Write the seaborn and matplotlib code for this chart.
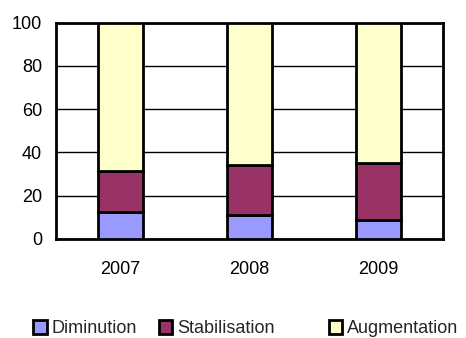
import matplotlib
matplotlib.use("Agg")
import matplotlib.pyplot as plt
import seaborn as sns
import numpy as np
import pandas as pd
from matplotlib.patches import Patch

years = ["2007", "2008", "2009"]
diminution = [12.3, 11.0, 8.6]
stabilisation = [19.0, 23.0, 26.6]
augmentation = [68.7, 66.0, 64.8]
series_names = ["Diminution", "Stabilisation", "Augmentation"]
colors = ["#9999FF", "#993366", "#FFFFCC"]

sns.set_theme(style="white")
plt.rcParams["font.family"] = ["Liberation Sans", "DejaVu Sans"]

fig = plt.figure(figsize=(4.66, 3.38), dpi=100)
ax = fig.add_axes([0.120, 0.293, 0.831, 0.640])

values = [diminution, stabilisation, augmentation]
bottom = np.zeros(len(years))
for name, vals, col in zip(series_names, values, colors):
    df = pd.DataFrame({"Année": years, "Valeur": vals})
    sns.barplot(data=df, x="Année", y="Valeur", color=col, width=0.35,
                bottom=bottom, edgecolor="black", linewidth=2,
                saturation=1, ax=ax, zorder=3)
    bottom = bottom + np.array(vals)

ax.set_ylim(0, 100)
ax.set_xlim(-0.5, 2.5)
ax.set_yticks([0, 20, 40, 60, 80, 100])
ax.yaxis.grid(True, color="black", linewidth=1)
ax.set_axisbelow(True)
ax.set_xlabel("")
ax.set_ylabel("")
for s in ax.spines.values():
    s.set_color("black")
    s.set_linewidth(2)
ax.tick_params(axis="both", length=0, labelsize=13, colors="black")
ax.tick_params(axis="x", pad=16)
ax.tick_params(axis="y", pad=10)

# legend entries placed individually along the bottom
legend_x = [0.071, 0.341, 0.705]
for x, name, col in zip(legend_x, series_names, colors):
    h = Patch(facecolor=col, edgecolor="black", linewidth=2)
    fig.legend([h], [name], loc="center left", bbox_to_anchor=(x, 0.027),
               frameon=False, fontsize=13, handlelength=0.75,
               handleheight=0.75, handletextpad=0.25, borderpad=0,
               borderaxespad=0)

fig.savefig("out.png", dpi=100)
